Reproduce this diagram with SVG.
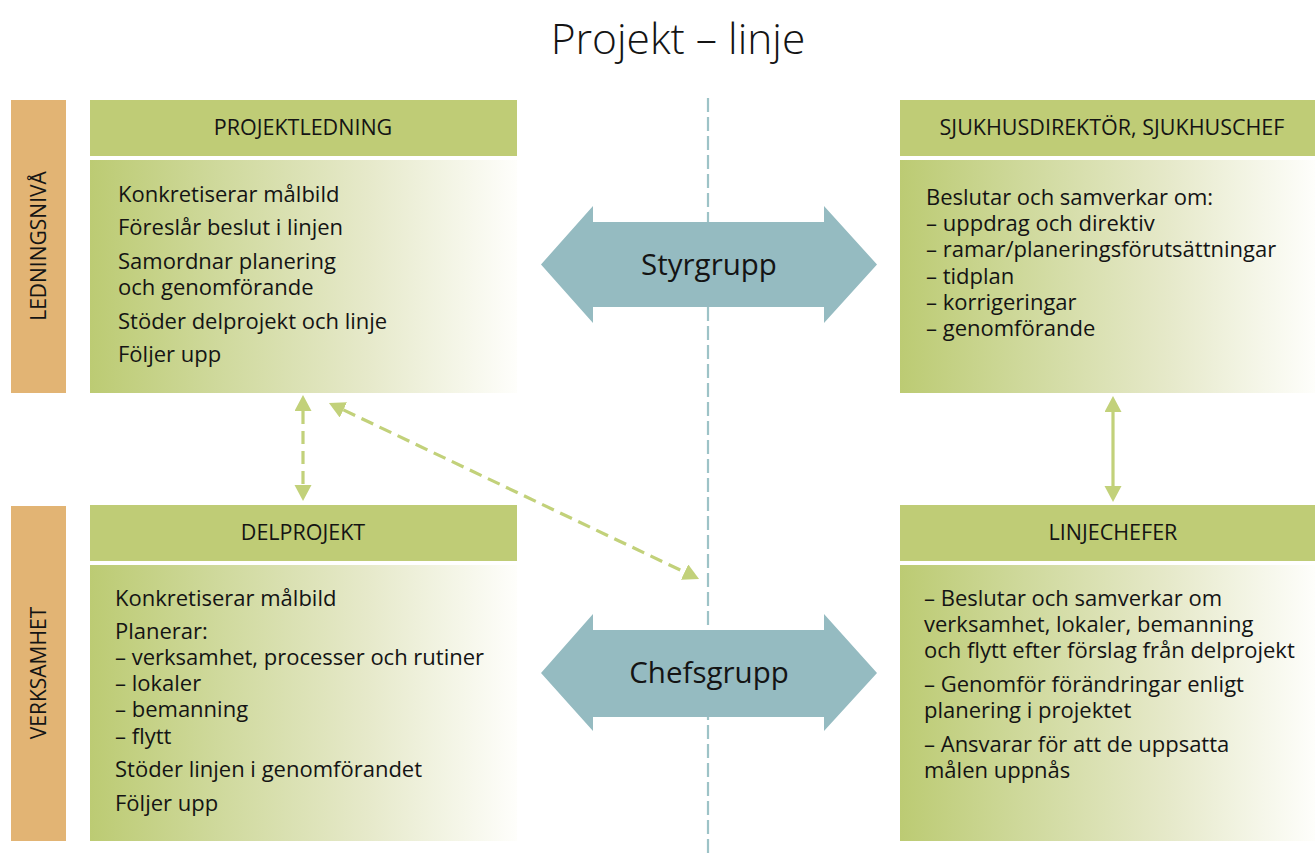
<svg xmlns="http://www.w3.org/2000/svg" width="1315" height="857" viewBox="0 0 1315 857">
  <style>
    text { font-family: "Open Sans", "Liberation Sans", sans-serif; fill: #141414; }
    .title { font-size: 42.5px; font-weight: 300; }
    .side { fill: #E2B474; }
    .side-label { font-size: 21px; }
    .head { fill: #BFCC76; }
    .head-label { font-size: 21.5px; text-anchor: middle; }
    .body { fill: url(#fade); }
    .item { font-size: 22px; }
    .band { fill: #95BBC1; }
    .band-label { font-size: 29.5px; text-anchor: middle; }
    .divider { stroke: #9DC3C7; stroke-width: 2.2; stroke-dasharray: 14 5; fill: none; }
    .link { stroke: #C2D17A; stroke-width: 3.2; fill: none; }
    .dashed { stroke-dasharray: 13 7; }
  </style>
  <defs>
    <linearGradient id="fade" x1="0" y1="0" x2="1" y2="0">
      <stop offset="0" stop-color="#BCCB73"/>
      <stop offset="0.3" stop-color="#CFD99C"/>
      <stop offset="0.65" stop-color="#E6E9CA"/>
      <stop offset="1" stop-color="#FEFEFB"/>
    </linearGradient>
    <marker id="tip" markerUnits="userSpaceOnUse" markerWidth="17" markerHeight="18" refX="0" refY="8.5" orient="auto-start-reverse">
      <path d="M0,0 L16,8.5 L0,17 z" fill="#C2D17A"/>
    </marker>
  </defs>

  <rect width="1315" height="857" fill="#FFFFFF"/>

  <text class="title" x="678" y="54" text-anchor="middle">Projekt – linje</text>

  <!-- centre divider between project and line organisation -->
  <line class="divider" x1="708" y1="98" x2="708" y2="857"/>

  <!-- level labels -->
  <g id="level-ledningsniva">
    <rect class="side" x="11" y="100" width="55" height="293"/>
    <text class="side-label" transform="translate(46,246) rotate(-90)" text-anchor="middle">LEDNINGSNIVÅ</text>
  </g>
  <g id="level-verksamhet">
    <rect class="side" x="11" y="506" width="55" height="335"/>
    <text class="side-label" transform="translate(46,673) rotate(-90)" text-anchor="middle">VERKSAMHET</text>
  </g>

  <g id="projektledning">
    <rect class="head" x="90" y="100" width="427" height="56"/>
    <text class="head-label" x="303" y="135">PROJEKTLEDNING</text>
    <rect class="body" x="90" y="160" width="427" height="233"/>
    <text class="item" x="118" y="202">Konkretiserar målbild</text>
    <text class="item" x="118" y="235">Föreslår beslut i linjen</text>
    <text class="item" x="118" y="269">Samordnar planering</text>
    <text class="item" x="118" y="295">och genomförande</text>
    <text class="item" x="118" y="329">Stöder delprojekt och linje</text>
    <text class="item" x="118" y="362">Följer upp</text>
  </g>

  <g id="sjukhusdirektor">
    <rect class="head" x="900" y="100" width="415" height="56"/>
    <text class="head-label" x="1112" y="135">SJUKHUSDIREKTÖR, SJUKHUSCHEF</text>
    <rect class="body" x="900" y="160" width="415" height="233"/>
    <text class="item" x="926" y="205">Beslutar och samverkar om:</text>
    <text class="item" x="926" y="231">– uppdrag och direktiv</text>
    <text class="item" x="926" y="257">– ramar/planeringsförutsättningar</text>
    <text class="item" x="926" y="284">– tidplan</text>
    <text class="item" x="926" y="310">– korrigeringar</text>
    <text class="item" x="926" y="336">– genomförande</text>
  </g>

  <g id="delprojekt">
    <rect class="head" x="90" y="505" width="427" height="56"/>
    <text class="head-label" x="303" y="540">DELPROJEKT</text>
    <rect class="body" x="90" y="565" width="427" height="276"/>
    <text class="item" x="115" y="606">Konkretiserar målbild</text>
    <text class="item" x="115" y="639">Planerar:</text>
    <text class="item" x="115" y="665">– verksamhet, processer och rutiner</text>
    <text class="item" x="115" y="691">– lokaler</text>
    <text class="item" x="115" y="717">– bemanning</text>
    <text class="item" x="115" y="744">– flytt</text>
    <text class="item" x="115" y="777">Stöder linjen i genomförandet</text>
    <text class="item" x="115" y="811">Följer upp</text>
  </g>

  <g id="linjechefer">
    <rect class="head" x="900" y="505" width="415" height="56"/>
    <text class="head-label" x="1113" y="540">LINJECHEFER</text>
    <rect class="body" x="900" y="565" width="415" height="276"/>
    <text class="item" x="924" y="606">– Beslutar och samverkar om</text>
    <text class="item" x="924" y="632">verksamhet, lokaler, bemanning</text>
    <text class="item" x="924" y="658">och flytt efter förslag från delprojekt</text>
    <text class="item" x="924" y="692">– Genomför förändringar enligt</text>
    <text class="item" x="924" y="718">planering i projektet</text>
    <text class="item" x="924" y="752">– Ansvarar för att de uppsatta</text>
    <text class="item" x="924" y="778">målen uppnås</text>
  </g>

  <g id="styrgrupp">
    <polygon class="band" points="541,264.5 593,206 593,222 824,222 824,206 877,264.5 824,323 824,307 593,307 593,323"/>
    <text class="band-label" x="709" y="275">Styrgrupp</text>
  </g>

  <g id="chefsgrupp">
    <polygon class="band" points="541,673 593,614 593,630 824,630 824,614 877,673 824,731 824,717 593,717 593,731"/>
    <text class="band-label" x="709" y="683">Chefsgrupp</text>
  </g>

  <g id="connectors">
    <line class="link dashed" x1="303" y1="411" x2="303" y2="485" marker-start="url(#tip)" marker-end="url(#tip)"/>
    <line class="link dashed" x1="343.4" y1="409.9" x2="684.6" y2="572.1" marker-start="url(#tip)" marker-end="url(#tip)"/>
    <line class="link" x1="1113" y1="412" x2="1113" y2="486" marker-start="url(#tip)" marker-end="url(#tip)"/>
  </g>
</svg>
